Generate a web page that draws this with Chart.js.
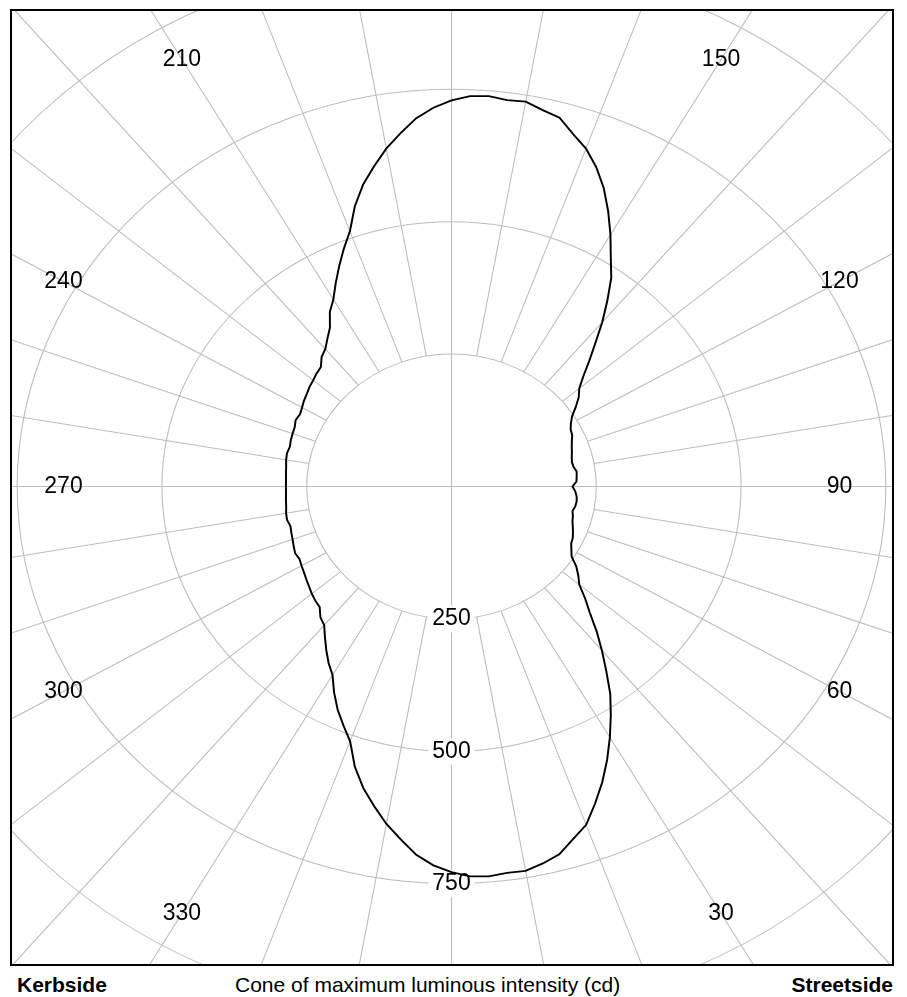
<!DOCTYPE html>
<html>
<head>
<meta charset="utf-8">
<script src="https://cdn.jsdelivr.net/npm/chart.js@4.4.1/dist/chart.umd.min.js"></script>
<style>
  html, body { margin: 0; padding: 0; background: #fff; width: 907px; height: 997px; overflow: hidden; }
  #frame { position: absolute; left: 10px; top: 9px; width: 884px; height: 957px; box-sizing: border-box;
           border: 2px solid #000; overflow: hidden; background: #fff; }
  #chart { position: absolute; left: 0; top: 0; }
  .foot { position: absolute; top: 974px; font-family: 'Liberation Sans', Arial, Helvetica, sans-serif;
          font-size: 21px; line-height: 21px; color: #000; white-space: nowrap; }
</style>
</head>
<body>
<div id="frame"><canvas id="chart" width="1352" height="1352"></canvas></div>
<div class="foot" style="left:17px;font-weight:bold">Kerbside</div>
<div class="foot" style="left:235px">Cone of maximum luminous intensity (cd)</div>
<div class="foot" style="right:14px;font-weight:bold">Streetside</div>
<script>
// ---- data (angle in degrees: 0 = down, 90 = streetside, 180 = up, 270 = kerbside) ----
const angles = [
  0, 2.5, 5, 7.5, 10, 12.5, 15, 17.5, 20, 22.5,
  25, 27.5, 30, 32.5, 35, 37.5, 40, 42.5, 45, 47.5,
  50, 52.5, 55, 57.5, 60, 62.5, 65, 67.5, 70, 72.5,
  75, 77.5, 80, 82.5, 85, 87.5, 90, 92.5, 95, 97.5,
  100, 102.5, 105, 107.5, 110, 112.5, 115, 117.5, 120, 122.5,
  125, 127.5, 130, 132.5, 135, 137.5, 140, 142.5, 145, 147.5,
  150, 152.5, 155, 157.5, 160, 162.5, 165, 167.5, 170, 172.5,
  175, 177.5, 180, 182.5, 185, 187.5, 190, 192.5, 195, 197.5,
  200, 202.5, 205, 207.5, 210, 212.5, 215, 217.5, 220, 222.5,
  225, 227.5, 230, 232.5, 235, 237.5, 240, 242.5, 245, 247.5,
  250, 252.5, 255, 257.5, 260, 262.5, 265, 267.5, 270, 272.5,
  275, 277.5, 280, 282.5, 285, 287.5, 290, 292.5, 295, 297.5,
  300, 302.5, 305, 307.5, 310, 312.5, 315, 317.5, 320, 322.5,
  325, 327.5, 330, 332.5, 335, 337.5, 340, 342.5, 345, 347.5,
  350, 352.5, 355, 357.5
];
const intensity = [
  728, 737, 739, 736, 737, 729, 719, 698, 680, 648,
  616, 582, 547, 512, 478, 439, 404, 371, 338, 313,
  288, 276, 263, 246, 239, 233, 231, 227, 223, 219,
  217, 214, 217, 218, 217, 214, 209, 216, 217, 218,
  214, 213, 215, 218, 221, 225, 230, 232, 238, 247,
  262, 277, 288, 309, 337, 368, 405, 442, 481, 512,
  549, 586, 622, 653, 679, 698, 721, 728, 738, 736,
  740, 738, 729, 716, 698, 673, 648, 619, 590, 555,
  513, 486, 459, 433, 408, 391, 366, 352, 339, 332,
  319, 316, 312, 309, 305, 302, 298, 295, 297, 293,
  292, 291, 289, 291, 290, 288, 287, 286, 286, 286,
  287, 288, 290, 291, 288, 290, 292, 295, 298, 296,
  299, 302, 306, 310, 315, 319, 322, 335, 342, 359,
  377, 395, 411, 439, 465, 488, 512, 555, 589, 618,
  647, 672, 698, 716
];
const ringTicks = [250, 500, 750];
const angleTickLabels = [30, 60, 90, 120, 150, 210, 240, 270, 300, 330];

// ---- layout / style constants ----
const SX = 1.0934;          // horizontal stretch of the polar grid
const PX_PER_CD = 0.5296;   // vertical pixels per cd
const CX = 451, CY = 486;   // page pixel of the axes
const FRAME_X = 12, FRAME_Y = 11;
const HW = 388, HH = 427;   // half-size of the rectangle the angle labels sit on
const FONT = "'Liberation Sans', Arial, Helvetica, sans-serif";
const GRID = '#bdbdbd';

// chart order runs clockwise on screen starting at the bottom
const chartLabels = [angles[0]].concat(angles.slice(1).reverse());
const chartData = [intensity[0]].concat(intensity.slice(1).reverse());

function makeUpright(prev) {
  return function (text, x, y, maxWidth) {
    const m = this.getTransform();
    const px = m.a * x + m.c * y + m.e;
    const py = m.b * x + m.d * y + m.f;
    this.save();
    this.setTransform(1, 0, 0, 1, px, py);
    if (maxWidth === undefined) prev.call(this, text, 0, 0);
    else prev.call(this, text, 0, 0, maxWidth);
    this.restore();
  };
}

const stretchPlugin = {
  id: 'stretch',
  beforeDraw(chart) {
    const ctx = chart.ctx, r = chart.scales.r;
    ctx.save();
    ctx.translate(r.xCenter + 0.5, 0.5);
    ctx.scale(SX, 1);
    ctx.translate(-r.xCenter, 0);
    chart.$prevFill = ctx.fillText;
    ctx.fillText = makeUpright(chart.$prevFill);
  },
  afterDraw(chart) {
    const ctx = chart.ctx, r = chart.scales.r;
    ctx.fillText = chart.$prevFill;
    ctx.restore();
    ctx.save();
    ctx.font = '23px ' + FONT;
    ctx.fillStyle = '#000';
    ctx.textAlign = 'center';
    ctx.textBaseline = 'middle';
    angleTickLabels.forEach(a => {
      const i = chartLabels.indexOf(a);
      const p = r.getPointPosition(i, 100);
      const ux = (p.x - r.xCenter) / 100 * SX;
      const uy = (p.y - r.yCenter) / 100;
      const tx = Math.abs(ux) > 1e-6 ? HW / Math.abs(ux) : Infinity;
      const ty = Math.abs(uy) > 1e-6 ? HH / Math.abs(uy) : Infinity;
      const t = Math.min(tx, ty);
      ctx.fillText(String(a), r.xCenter + 0.5 + t * ux, r.yCenter + 0.5 + t * uy);
    });
    ctx.restore();
  }
};

const canvas = document.getElementById('chart');
const chart = new Chart(canvas, {
  type: 'radar',
  data: {
    labels: chartLabels,
    datasets: [{
      label: 'Luminous intensity (cd)',
      data: chartData,
      borderColor: '#000',
      borderWidth: 1.8,
      pointRadius: 0,
      pointHoverRadius: 0,
      fill: false,
      tension: 0
    }]
  },
  options: {
    responsive: false,
    animation: false,
    devicePixelRatio: 1,
    layout: { padding: 0 },
    plugins: { legend: { display: false }, tooltip: { enabled: false } },
    scales: {
      r: {
        min: 0,
        max: 1250,
        startAngle: 180,
        grid: { circular: true, color: GRID, lineWidth: 1 },
        angleLines: {
          color: GRID,
          lineWidth: (c) => (chartLabels[c.index] % 10 === 0 ? 1 : 0),
          borderDash: (c) => {
            const a = chartLabels[c.index];
            if (a % 90 === 0) return [];
            const L = c.scale.getDistanceFromCenterForValue(ringTicks[0]);
            return [0, L, 100000];
          }
        },
        pointLabels: { display: false },
        ticks: {
          stepSize: 250,
          color: '#000',
          font: { family: FONT, size: 23 },
          backdropColor: '#fff',
          backdropPadding: 2,
          callback: (v) => (ringTicks.includes(v) ? String(v) : '')
        }
      }
    }
  },
  plugins: [stretchPlugin]
});

const rs = chart.scales.r;
canvas.style.left = (CX - rs.xCenter - FRAME_X) + 'px';
canvas.style.top = (CY - rs.yCenter - FRAME_Y) + 'px';
const wantMax = rs.drawingArea / PX_PER_CD;
if (Math.abs(wantMax - 1250) > 0.05) {
  chart.options.scales.r.max = wantMax;
  chart.update('none');
}
</script>
</body>
</html>
